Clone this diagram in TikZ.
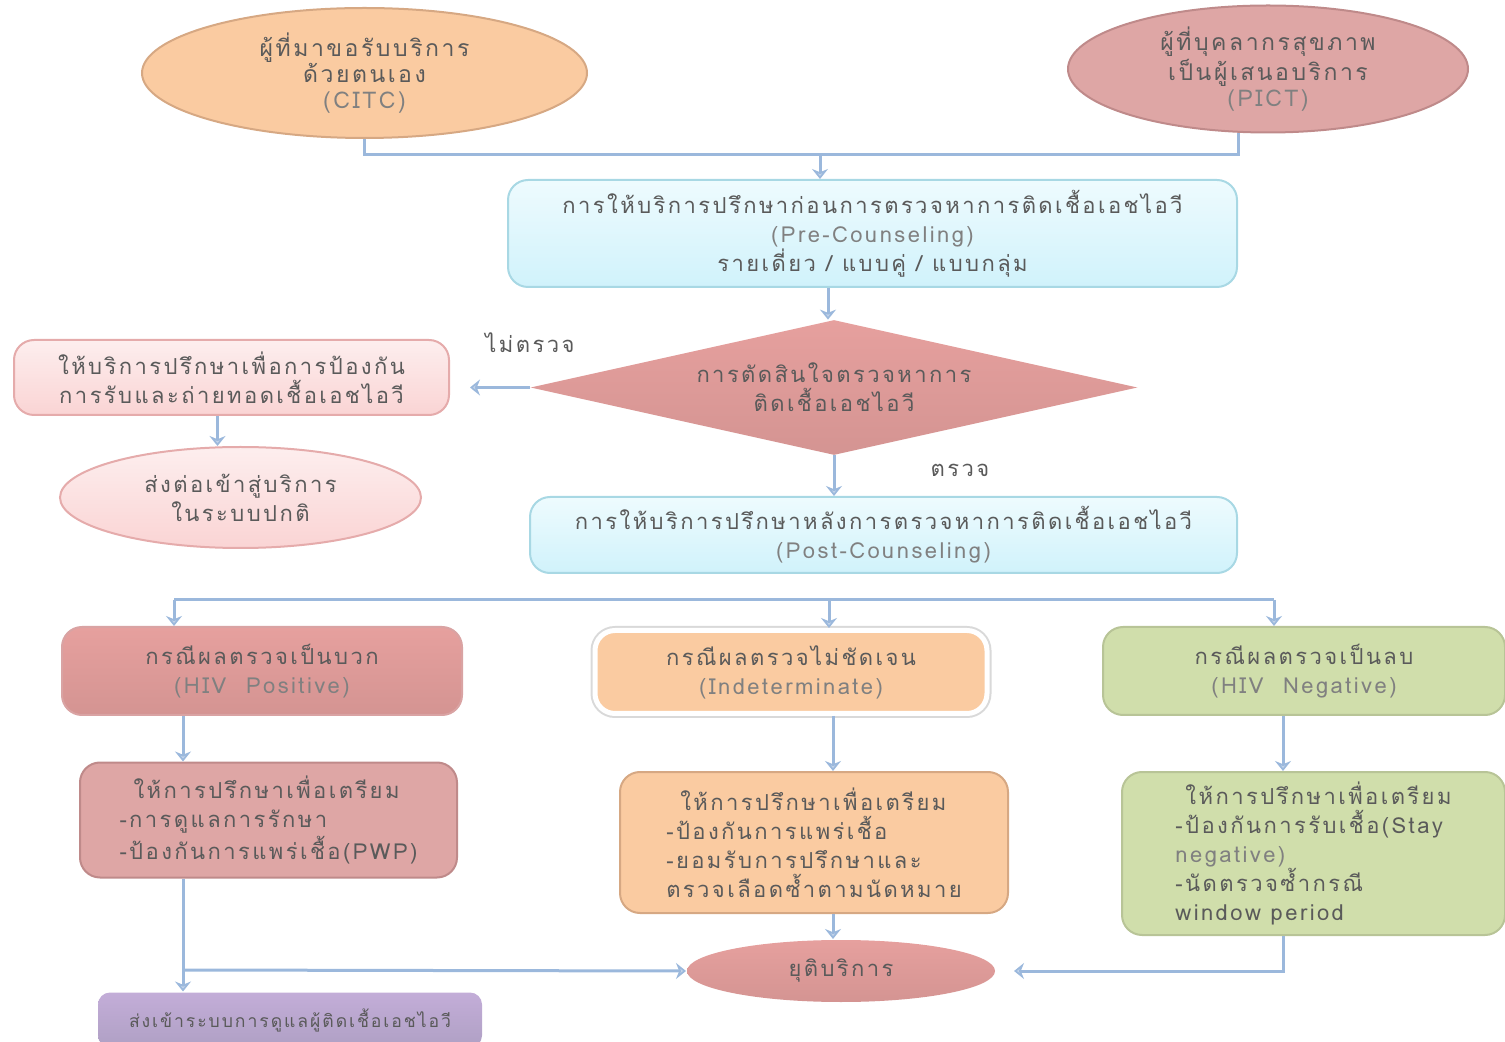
\documentclass[tikz,border=0pt]{standalone}
\usepackage{fontspec}
\newfontfamily\thai[Script=Thai,LetterSpace=11]{Loma}
\usetikzlibrary{shapes.geometric,arrows.meta}
\definecolor{lineblue}{HTML}{9BB8DC}
\definecolor{txt}{HTML}{5A5A5A}
\definecolor{entxt}{HTML}{808080}
\definecolor{peach}{HTML}{FACBA1}
\definecolor{peachB}{HTML}{D6A883}
\definecolor{rose}{HTML}{DEA6A5}
\definecolor{roseB}{HTML}{BF8A8A}
\definecolor{cyanT}{HTML}{EEFBFE}
\definecolor{cyanBo}{HTML}{D0F2FB}
\definecolor{cyanB}{HTML}{A8D8E4}
\definecolor{redT}{HTML}{E6A09E}
\definecolor{redBo}{HTML}{D49492}
\definecolor{redB}{HTML}{D9A3A3}
\definecolor{pinkT}{HTML}{FDEEEE}
\definecolor{pinkBo}{HTML}{FAD4D4}
\definecolor{pinkB}{HTML}{E5ABAB}
\definecolor{green}{HTML}{D0DEAB}
\definecolor{greenB}{HTML}{B8C497}
\definecolor{purT}{HTML}{C3ADD8}
\definecolor{purBo}{HTML}{AFA0C4}
\newcommand{\en}[1]{{\color{entxt}#1}}
\begin{document}
\begin{tikzpicture}[x=0.5pt,y=-0.5pt,
  font=\thai\fontsize{11}{14.5}\selectfont, text=txt,
  shape box/.style={rectangle, rounded corners=10pt, line width=1pt, align=center, inner sep=0pt},
  oval/.style={ellipse, line width=1pt, align=center, inner sep=0pt},
  conn/.style={draw=lineblue, line width=1.5pt, -{Stealth[length=5pt,width=8pt,fill=lineblue!60]}},
  plain/.style={draw=lineblue, line width=1.5pt},
  lab/.style={inner sep=0pt}]
\useasboundingbox (0,0) rectangle (1505,1042);

% top ellipses
\node[oval, fill=peach, draw=peachB, minimum width=222.5pt, minimum height=65pt, font=\thai\fontsize{11.5}{13}\selectfont] (cL) at (364.5,73)
  {ผู้ที่มาขอรับบริการ\\ด้วยตนเอง\\\en{(CITC)}};
\node[oval, fill=rose, draw=roseB, minimum width=200pt, minimum height=63.5pt, font=\thai\fontsize{11.5}{13}\selectfont] (cR) at (1268,69)
  {ผู้ที่บุคลากรสุขภาพ\\เป็นผู้เสนอบริการ\\\en{(PICT)}};

% pre counseling
\node[shape box, top color=cyanT, bottom color=cyanBo, draw=cyanB, minimum width=364.5pt, minimum height=53.5pt] (pre) at (872.5,233.5)
  {การให้บริการปรึกษาก่อนการตรวจหาการติดเชื้อเอชไอวี\\\en{(Pre-Counseling)}\\รายเดี่ยว / แบบคู่ / แบบกลุ่ม};

% decision
\node[diamond, aspect=4.5, top color=redT, bottom color=redBo, draw=none, minimum width=303.5pt, minimum height=67.5pt, inner sep=0pt, align=center] (dia) at (834,387.5)
  {การตัดสินใจตรวจหาการ\\ติดเชื้อเอชไอวี};

% left branch
\node[shape box, top color=pinkT, bottom color=pinkBo, draw=pinkB, minimum width=217.5pt, minimum height=37.5pt] (lbox) at (231.5,377.5)
  {ให้บริการปรึกษาเพื่อการป้องกัน\\การรับและถ่ายทอดเชื้อเอชไอวี};
\node[oval, top color=pinkT, bottom color=pinkBo, draw=pinkB, minimum width=180.5pt, minimum height=50.5pt] (lell) at (240.5,497.5)
  {ส่งต่อเข้าสู่บริการ\\ในระบบปกติ};

% post counseling
\node[shape box, top color=cyanT, bottom color=cyanBo, draw=cyanB, minimum width=353.5pt, minimum height=38pt] (post) at (883.5,535)
  {การให้บริการปรึกษาหลังการตรวจหาการติดเชื้อเอชไอวี\\\en{(Post-Counseling)}};

% results
\node[shape box, top color=redT, bottom color=redBo, draw=redB, minimum width=200pt, minimum height=44pt] (pos) at (262,671)
  {กรณีผลตรวจเป็นบวก\\\en{(HIV~~Positive)}};
\node[shape box, fill=peach, draw=white, line width=2.5pt, preaction={draw=black!15, line width=4.5pt}, minimum width=196pt, minimum height=41.5pt] (mid) at (791,672)
  {กรณีผลตรวจไม่ชัดเจน\\\en{(Indeterminate)}};
\node[shape box, fill=green, draw=greenB, minimum width=201pt, minimum height=44pt] (neg) at (1304,671)
  {กรณีผลตรวจเป็นลบ\\\en{(HIV~~Negative)}};

% follow-up counseling
\node[shape box, fill=rose, draw=roseB, minimum width=188.5pt, minimum height=57.5pt, align=left] (psub) at (268.5,820)
  {\hspace{7pt}ให้การปรึกษาเพื่อเตรียม\\-การดูแลการรักษา\\-ป้องกันการแพร่เชื้อ(PWP)};
\node[shape box, fill=peach, draw=peachB, minimum width=194pt, minimum height=70.5pt, align=left] (msub) at (814,842.5)
  {\hspace{7pt}ให้การปรึกษาเพื่อเตรียม\\-ป้องกันการแพร่เชื้อ\\-ยอมรับการปรึกษาและ\\ตรวจเลือดซ้ำตามนัดหมาย};
\node[shape box, fill=green, draw=greenB, minimum width=191.5pt, minimum height=81.5pt, align=left] (nsub) at (1313.5,853.5)
  {\hspace{5pt}ให้การปรึกษาเพื่อเตรียม\\-ป้องกันการรับเชื้อ(Stay\\\en{negative)}\\-นัดตรวจซ้ำกรณี\\window period};

% end
\node[oval, top color=redT, bottom color=redBo, draw=none, minimum width=154pt, minimum height=31pt] (endE) at (841,971)
  {ยุติบริการ};
\node[shape box, top color=purT, bottom color=purBo, draw=none, rounded corners=6pt, minimum width=192pt, minimum height=27.5pt, font=\thai\fontsize{8.8}{12}\selectfont] (pur) at (290,1020)
  {ส่งเข้าระบบการดูแลผู้ติดเชื้อเอชไอวี};

% labels
\node[lab] (no) at (530,343) {ไม่ตรวจ};
\node[lab] (yes) at (960,470) {ตรวจ};

% junctions
\coordinate (j1) at (820,155);
\coordinate (j2) at (829,600);
\coordinate (j3) at (183,970);

% connectors
\draw[plain] (cL.south) |- (j1) -| ([xshift=-15pt]cR.south);
\draw[conn] (j1) -- (j1 |- pre.north);
\draw[conn] ([xshift=-3pt]pre.south -| dia.north) -- ([xshift=-3pt]dia.north);
\draw[conn] (dia.west) -- ([xshift=10pt]lbox.east |- dia.west);
\draw[conn] ([xshift=-7pt]lbox.south) -- ([xshift=-7pt]lbox.south |- lell.north);
\draw[conn] (dia.south) -- (dia.south |- post.north);
\draw[plain] ([xshift=-44pt]pos.north |- j2) -- ([xshift=-15pt]neg.north |- j2);
\draw[conn] ([xshift=-44pt]pos.north |- j2) -- ([xshift=-44pt]pos.north);
\draw[conn] (j2) -- (j2 |- mid.north);
\draw[conn] ([xshift=-15pt]neg.north |- j2) -- ([xshift=-15pt]neg.north);
\draw[conn] ([xshift=-39.5pt]pos.south) -- ([xshift=-39.5pt]pos.south |- psub.north);
\draw[conn] ([xshift=21pt]mid.south) -- ([xshift=21pt]mid.south |- msub.north);
\draw[conn] ([xshift=-10.5pt]neg.south) -- ([xshift=-10.5pt]neg.south |- nsub.north);
\draw[conn] (j3 |- psub.south) -- (j3 |- pur.north);
\draw[conn] (j3) -- (endE.west);
\draw[conn] ([xshift=9.5pt]msub.south) -- ([xshift=9.5pt]msub.south |- endE.north);
\draw[conn] ([xshift=-15.25pt]nsub.south) |- ([xshift=9pt]endE.east);
\end{tikzpicture}
\end{document}
